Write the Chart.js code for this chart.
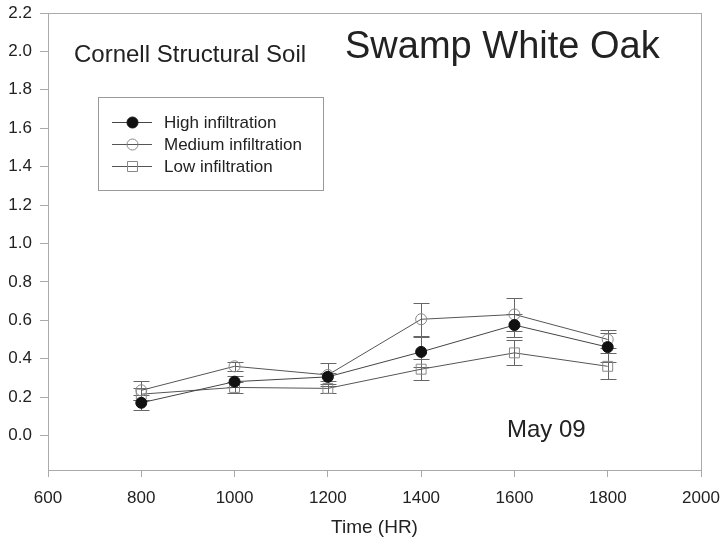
<!DOCTYPE html>
<html>
<head>
<meta charset="utf-8">
<script src="https://cdn.jsdelivr.net/npm/chart.js@4"></script>
<style>
  body { margin: 0; background: #fff; }
  #wrap { width: 722px; height: 547px; position: relative; }
</style>
</head>
<body>
<div id="wrap"><canvas id="oakChart"></canvas></div>
<script>
const times = [800, 1000, 1200, 1400, 1600, 1800];
const highMean = [0.17, 0.28, 0.305, 0.435, 0.575, 0.46];
const highErr = [0.04, 0.03, 0.02, 0.076, 0.06, 0.075];
const medMean = [0.235, 0.36, 0.315, 0.605, 0.63, 0.5];
const medErr = [0.05, 0.025, 0.06, 0.085, 0.085, 0.047];
const lowMean = [0.215, 0.25, 0.245, 0.345, 0.43, 0.36];
const lowErr = [0.03, 0.03, 0.025, 0.055, 0.065, 0.068];
const yTicks = [0, 0.2, 0.4, 0.6, 0.8, 1.0, 1.2, 1.4, 1.6, 1.8, 2.0, 2.2];
const seriesNames = ['High infiltration', 'Medium infiltration', 'Low infiltration'];

const FONT = '"Liberation Sans", Arial, sans-serif';
const AXIS_GRAY = '#aaaaaa';

function toPoints(means, errs) {
    return times.map((t, i) => ({ x: t, y: means[i], err: errs[i] }));
}

// frame around the plot area
const frame = {
    id: 'frame',
    afterDraw(chart) {
        const { ctx, chartArea: a } = chart;
        ctx.save();
        ctx.strokeStyle = AXIS_GRAY;
        ctx.lineWidth = 1;
        ctx.strokeRect(Math.round(a.left) + 0.5, Math.round(a.top) + 0.5,
            Math.round(a.right - a.left), Math.round(a.bottom - a.top));
        ctx.restore();
    }
};

// vertical error bars with caps, drawn under the markers
const errorBars = {
    id: 'errorBars',
    beforeDatasetsDraw(chart) {
        const { ctx, scales } = chart;
        ctx.save();
        ctx.strokeStyle = '#666';
        ctx.lineWidth = 1;
        chart.data.datasets.forEach(ds => {
            ds.data.forEach(p => {
                const x = Math.round(scales.x.getPixelForValue(p.x)) + 0.5;
                const yTop = Math.round(scales.y.getPixelForValue(p.y + p.err)) + 0.5;
                const yBot = Math.round(scales.y.getPixelForValue(p.y - p.err)) + 0.5;
                ctx.beginPath();
                ctx.moveTo(x, yTop); ctx.lineTo(x, yBot);
                ctx.moveTo(x - 8, yTop); ctx.lineTo(x + 8, yTop);
                ctx.moveTo(x - 8, yBot); ctx.lineTo(x + 8, yBot);
                ctx.stroke();
            });
        });
        ctx.restore();
    }
};

// boxed legend and the free text labels
const notes = {
    id: 'notes',
    afterDraw(chart) {
        const { ctx } = chart;
        ctx.save();
        ctx.fillStyle = '#222';
        ctx.textBaseline = 'alphabetic';
        ctx.textAlign = 'left';
        ctx.font = '24px ' + FONT;
        ctx.fillText('Cornell Structural Soil', 74, 62);
        ctx.font = '38px ' + FONT;
        ctx.fillText('Swamp White Oak', 345, 58);
        ctx.font = '24px ' + FONT;
        ctx.fillText('May 09', 507, 437);

        // legend box
        ctx.strokeStyle = '#999';
        ctx.lineWidth = 1;
        ctx.strokeRect(98.5, 97.5, 225, 93);
        const rowsY = [122, 144, 166];
        chart.data.datasets.forEach((ds, i) => {
            const y = rowsY[i] + 0.5;
            ctx.strokeStyle = ds.borderColor;
            ctx.beginPath();
            ctx.moveTo(112, y); ctx.lineTo(152, y);
            ctx.stroke();
            ctx.fillStyle = ds.pointBackgroundColor;
            ctx.strokeStyle = ds.pointBorderColor;
            ctx.beginPath();
            if (ds.pointStyle === 'rect') {
                ctx.rect(127.5, y - 5, 10, 10);
            } else {
                ctx.arc(132.5, y, ds.pointRadius, 0, Math.PI * 2);
            }
            ctx.fill();
            ctx.stroke();
            ctx.fillStyle = '#222';
            ctx.font = '17px ' + FONT;
            ctx.textBaseline = 'middle';
            ctx.fillText(ds.label, 164, rowsY[i] + 1);
        });
        ctx.restore();
    }
};

function initChart() {
    const ctx = document.getElementById('oakChart').getContext('2d');
    new Chart(ctx, {
        type: 'line',
        data: {
            datasets: [{
                label: seriesNames[0],
                data: toPoints(highMean, highErr),
                borderColor: '#444',
                borderWidth: 1,
                pointStyle: 'circle',
                pointRadius: 5.5,
                pointBackgroundColor: '#111',
                pointBorderColor: '#111',
                pointBorderWidth: 1
            }, {
                label: seriesNames[1],
                data: toPoints(medMean, medErr),
                borderColor: '#555',
                borderWidth: 1,
                pointStyle: 'circle',
                pointRadius: 5.5,
                pointBackgroundColor: 'rgba(255,255,255,0)',
                pointBorderColor: '#888',
                pointBorderWidth: 1
            }, {
                label: seriesNames[2],
                data: toPoints(lowMean, lowErr),
                borderColor: '#555',
                borderWidth: 1,
                pointStyle: 'rect',
                pointRadius: 7,
                pointBackgroundColor: 'rgba(255,255,255,0)',
                pointBorderColor: '#888',
                pointBorderWidth: 1
            }]
        },
        options: {
            responsive: true,
            maintainAspectRatio: false,
            animation: false,
            layout: { padding: { top: 13, right: 21, left: 0, bottom: 0 } },
            plugins: {
                legend: { display: false },
                tooltip: { enabled: false }
            },
            scales: {
                x: {
                    type: 'linear',
                    min: 600,
                    max: 2000,
                    ticks: {
                        stepSize: 200,
                        color: '#222',
                        font: { family: FONT, size: 17 },
                        padding: 11,
                        maxRotation: 0,
                        callback: v => String(v)
                    },
                    grid: { drawOnChartArea: false, tickLength: 7, color: AXIS_GRAY },
                    border: { display: false },
                    title: {
                        display: true,
                        text: 'Time (HR)',
                        color: '#222',
                        font: { family: FONT, size: 19 },
                        padding: { top: 0, bottom: 8 }
                    },
                    afterFit(scale) {
                        scale.height = 77;
                        scale.paddingLeft = 0;
                        scale.paddingRight = 0;
                    }
                },
                y: {
                    min: -0.18,
                    max: 2.2,
                    afterBuildTicks(scale) {
                        scale.ticks = yTicks.map(v => ({ value: v }));
                    },
                    ticks: {
                        color: '#222',
                        font: { family: FONT, size: 17 },
                        padding: 8,
                        callback: v => v.toFixed(1)
                    },
                    grid: { drawOnChartArea: false, tickLength: 8, color: AXIS_GRAY },
                    border: { display: false },
                    afterFit(scale) {
                        scale.width = 48;
                        scale.paddingTop = 0;
                        scale.paddingBottom = 0;
                    }
                }
            }
        },
        plugins: [frame, errorBars, notes]
    });
}

document.addEventListener('DOMContentLoaded', initChart);
</script>
</body>
</html>
